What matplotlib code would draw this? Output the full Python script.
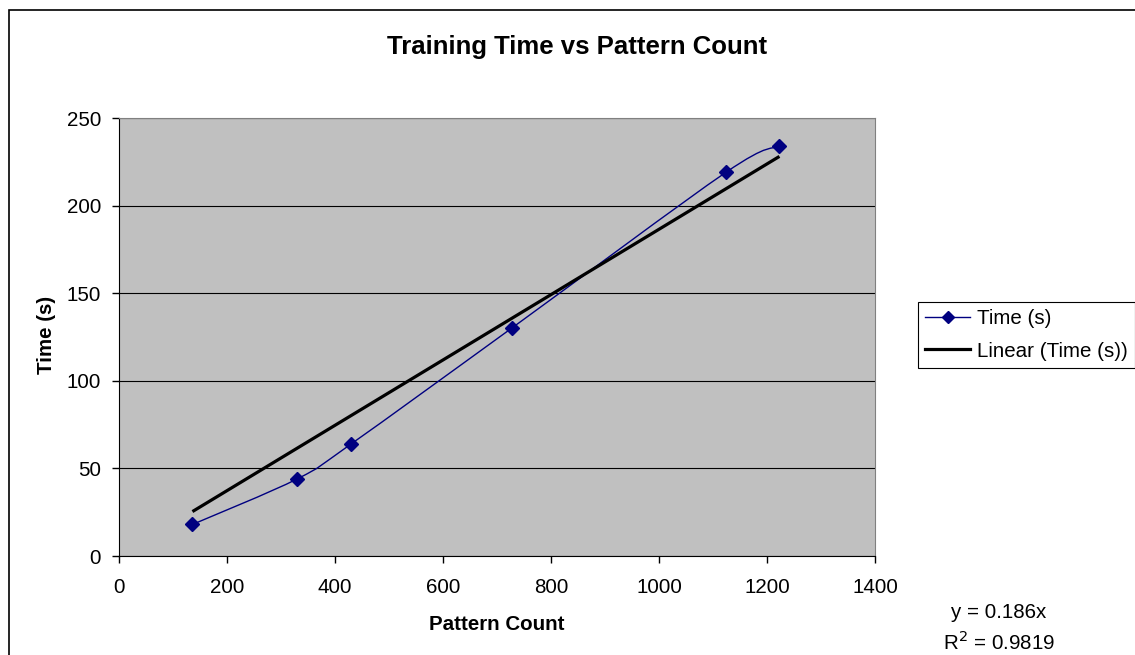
import numpy as np
import matplotlib
matplotlib.use("Agg")
import matplotlib.pyplot as plt
from matplotlib.path import Path
from matplotlib.patches import PathPatch, Rectangle
from matplotlib.lines import Line2D

plt.rcParams['font.family'] = ['Liberation Sans', 'DejaVu Sans']

# data
pattern_count = [136, 330, 430, 727, 1124, 1223]
time_s = [18, 44, 64, 130, 219, 234]
series_name = "Time (s)"
trend_name = "Linear (Time (s))"
eq_text = "y = 0.186x"
r2_text = "R$^2$ = 0.9819"
x_ticks = [0, 200, 400, 600, 800, 1000, 1200, 1400]
y_ticks = [0, 50, 100, 150, 200, 250]

FS = 14.8


def smooth_path(xs, ys):
    # bezier curve through the points, like Excel's smoothed line
    pts = np.column_stack([xs, ys]).astype(float)
    n = len(pts)
    verts = [pts[0]]
    codes = [Path.MOVETO]
    for i in range(n - 1):
        p0 = pts[max(i - 1, 0)]
        p1 = pts[i]
        p2 = pts[i + 1]
        p3 = pts[min(i + 2, n - 1)]
        c1 = p1 + (p2 - p0) / 6.0
        c2 = p2 - (p3 - p1) / 6.0
        verts += [c1, c2, p2]
        codes += [Path.CURVE4] * 3
    return Path(verts, codes)


fig = plt.figure(figsize=(11.35, 6.55), dpi=100)
ax = fig.add_axes([119 / 1135, 1 - 556 / 655, 756 / 1135, 438 / 655])
ax.set_facecolor('#C0C0C0')

navy = '#000080'
ax.add_patch(PathPatch(smooth_path(pattern_count, time_s), facecolor='none',
                       edgecolor=navy, lw=1.0, zorder=3))
ax.plot(pattern_count, time_s, 'D', color=navy, ms=7.5, zorder=4)

# trendline through the origin
x = np.array(pattern_count, dtype=float)
y = np.array(time_s, dtype=float)
slope = np.sum(x * y) / np.sum(x * x)
xt = np.array([x.min(), x.max()])
ax.plot(xt, slope * xt, color='black', lw=2.3, zorder=3, solid_capstyle='butt')

ax.set_xlim(0, 1400)
ax.set_ylim(0, 250)
ax.set_xticks(x_ticks)
ax.set_yticks(y_ticks)
ax.tick_params(direction='out', length=5, width=1, labelsize=FS)
ax.tick_params(axis='x', pad=11)
ax.tick_params(axis='y', pad=8)
ax.yaxis.grid(True, color='black', lw=0.8)
ax.set_axisbelow(True)
for s in ['top', 'right']:
    ax.spines[s].set_color('#808080')
for s in ['left', 'bottom']:
    ax.spines[s].set_color('black')

fig.text(577 / 1135, 1 - 47 / 655, "Training Time vs Pattern Count",
         ha='center', va='center', fontsize=18.5, fontweight='bold')
fig.text(497 / 1135, 1 - 625 / 655, "Pattern Count", ha='center', va='center',
         fontsize=FS, fontweight='bold')
fig.text(46 / 1135, 1 - 335 / 655, "Time (s)", ha='center', va='center',
         fontsize=FS, fontweight='bold', rotation=90)

handles = [Line2D([], [], color=navy, lw=1.0, marker='D', ms=6),
           Line2D([], [], color='black', lw=2.3)]
leg = fig.legend(handles, [series_name, trend_name], loc='upper left',
                 bbox_to_anchor=(918 / 1135, 1 - 302 / 655), borderaxespad=0,
                 fancybox=False, edgecolor='black', framealpha=1, fontsize=FS,
                 handlelength=2.2, handletextpad=0.3, labelspacing=0.65,
                 borderpad=0.35)
leg.get_frame().set_linewidth(0.8)

fig.text(999 / 1135, 1 - 613 / 655, eq_text, ha='center', va='center', fontsize=FS)
fig.text(999 / 1135, 1 - 642 / 655, r2_text, ha='center', va='center', fontsize=FS)

fig.patches.append(Rectangle((9 / 1135, -0.1), 1.2, 1 - 10 / 655 + 0.1,
                             transform=fig.transFigure, fill=False,
                             edgecolor='black', lw=1.2))

fig.savefig("out.png", dpi=100)
